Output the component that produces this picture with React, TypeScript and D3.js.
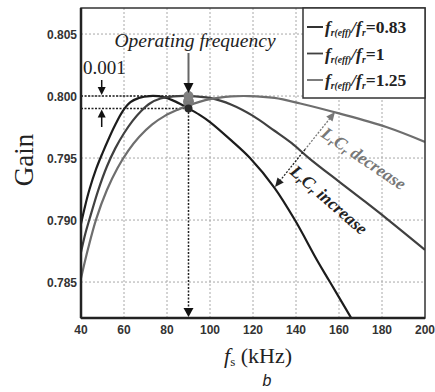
import React from "react";
import * as d3 from "d3";

const xTicks = [40, 60, 80, 100, 120, 140, 160, 180, 200];
const yTicks = [0.785, 0.79, 0.795, 0.8, 0.805];

// fr(eff)/fr = 0.83 (LrCr increase)
const freq1 = [40, 42, 44, 47, 50, 53, 56, 59.5, 63, 67, 72, 78, 84, 90, 95, 100, 110, 118.6, 130, 139.5, 150, 155.8, 166.7, 172];
const gain1 = [0.7897, 0.7912, 0.7925, 0.7941, 0.7954, 0.7966, 0.7977, 0.7988, 0.7995, 0.79985, 0.8, 0.79993, 0.79955, 0.799, 0.7985, 0.7979, 0.7964, 0.795, 0.7926, 0.79, 0.7867, 0.785, 0.7818, 0.7802];
// fr(eff)/fr = 1
const freq2 = [40, 42, 44, 48, 52, 56, 60, 64, 68, 72, 77, 83, 90, 100, 110, 120, 130, 138, 146, 160, 172, 183, 200];
const gain2 = [0.7874, 0.7889, 0.7901, 0.7924, 0.7943, 0.7958, 0.797, 0.798, 0.7988, 0.7994, 0.7998, 0.79997, 0.8, 0.79985, 0.7993, 0.7984, 0.7972, 0.7962, 0.795, 0.7931, 0.7915, 0.79, 0.7876];
// fr(eff)/fr = 1.25 (LrCr decrease)
const freq3 = [40, 43.3, 47.1, 52, 57, 62, 67, 73, 79, 85, 90, 100, 110, 118, 130, 142, 160, 182, 200];
const gain3 = [0.7853, 0.7877, 0.7901, 0.7924, 0.7942, 0.7956, 0.7967, 0.7977, 0.7984, 0.7989, 0.79925, 0.79975, 0.79997, 0.8, 0.79985, 0.7994, 0.7986, 0.7975, 0.7963];

const legendLabels = ["0.83", "1", "1.25"];
const seriesColors = ["#1c1c1c", "#404040", "#6e6e6e"];

const opFreq = 90;
const opGainHigh = 0.8;
const opGainLow = 0.799;

export default function App() {
  const W = 435, H = 392;
  const L = 81, R = 425, T = 8, B = 318;
  const x = d3.scaleLinear().domain([40, 200]).range([L, R]);
  const y = d3.scaleLinear().domain([0.7821, 0.8071]).range([B, T]);
  const line = d3
    .line<[number, number]>()
    .x((d) => x(d[0]))
    .y((d) => y(d[1]))
    .curve(d3.curveCatmullRom.alpha(0.5));
  const series = [
    d3.zip(freq1, gain1) as [number, number][],
    d3.zip(freq2, gain2) as [number, number][],
    d3.zip(freq3, gain3) as [number, number][],
  ];
  const ox = x(opFreq);
  const serif = "'Liberation Serif', 'Times New Roman', serif";
  const sans = "'Liberation Sans', Arial, sans-serif";

  const tri = (tx: number, ty: number, dir: "down" | "up", w = 4.5, h = 9) =>
    dir === "down"
      ? `M${tx - w},${ty - h}L${tx + w},${ty - h}L${tx},${ty}Z`
      : `M${tx - w},${ty + h}L${tx + w},${ty + h}L${tx},${ty}Z`;

  // double arrow between curves
  const a1 = [335, 112];
  const a2 = [275, 187];
  const ang = Math.atan2(a2[1] - a1[1], a2[0] - a1[0]);
  const headAt = (px: number, py: number, dirAng: number, len = 9, w = 4) => {
    const bx = px - Math.cos(dirAng) * len;
    const by = py - Math.sin(dirAng) * len;
    const nx = -Math.sin(dirAng) * w;
    const ny = Math.cos(dirAng) * w;
    return `M${px},${py}L${bx + nx},${by + ny}L${bx - nx},${by - ny}Z`;
  };

  return (
    <svg width={W} height={H} style={{ position: "absolute", left: 0, top: 0, background: "#fff" }}>
      <defs>
        <clipPath id="plot">
          <rect x={L} y={T} width={R - L} height={B - T} />
        </clipPath>
      </defs>
      {/* grid */}
      {xTicks.slice(1, -1).map((t) => (
        <line key={"gx" + t} x1={x(t)} x2={x(t)} y1={T} y2={B} stroke="#a8a8a8" strokeWidth={1} strokeDasharray="2,2" />
      ))}
      {yTicks.map((t) => (
        <line key={"gy" + t} x1={L} x2={R} y1={y(t)} y2={y(t)} stroke="#a8a8a8" strokeWidth={1} strokeDasharray="2,2" />
      ))}
      {/* reference dotted lines */}
      <line x1={L} x2={ox} y1={y(opGainHigh)} y2={y(opGainHigh)} stroke="#222" strokeWidth={1.5} strokeDasharray="2,1.5" />
      <line x1={L} x2={ox} y1={y(opGainLow)} y2={y(opGainLow)} stroke="#222" strokeWidth={1.5} strokeDasharray="2,1.5" />
      <line x1={ox} x2={ox} y1={y(opGainLow)} y2={B - 8} stroke="#222" strokeWidth={1.5} strokeDasharray="2,1.5" />
      <path d={tri(ox, B - 1, "down", 5, 9)} fill="#111" />
      {/* curves */}
      <g clipPath="url(#plot)">
        {series.map((s, i) => (
          <path key={i} d={line(s) || ""} fill="none" stroke={seriesColors[i]} strokeWidth={2.2} />
        ))}
      </g>
      {/* operating points */}
      <circle cx={ox} cy={y(0.79955)} r={5.5} fill="#7a7a7a" />
      <circle cx={ox} cy={y(opGainHigh)} r={5} fill="#808080" />
      <circle cx={ox} cy={y(opGainLow)} r={4} fill="#2a2a2a" />
      {/* operating frequency arrow */}
      <line x1={ox} x2={ox} y1={53} y2={85} stroke="#666" strokeWidth={2} />
      <path d={tri(ox, 93, "down", 5, 10)} fill="#111" />
      <text x={195} y={47} textAnchor="middle" fontFamily={serif} fontStyle="italic" fontSize={19.5} fill="#222">
        Operating frequency
      </text>
      {/* 0.001 annotation */}
      <text x={83} y={74} fontFamily={serif} fontSize={19} fill="#222">0.001</text>
      <line x1={101.7} x2={101.7} y1={80} y2={88} stroke="#111" strokeWidth={1.5} />
      <path d={tri(101.7, 95, "down", 4, 8)} fill="#111" />
      <line x1={101.7} x2={101.7} y1={116} y2={127} stroke="#111" strokeWidth={1.5} />
      <path d={tri(101.7, 109.5, "up", 4, 8)} fill="#111" />
      {/* LrCr double arrow */}
      <line
        x1={a1[0] + Math.cos(ang) * 8}
        y1={a1[1] + Math.sin(ang) * 8}
        x2={(a1[0] + a2[0]) / 2}
        y2={(a1[1] + a2[1]) / 2}
        stroke="#777"
        strokeWidth={1.3}
        strokeDasharray="2,1.5"
      />
      <line
        x1={(a1[0] + a2[0]) / 2}
        y1={(a1[1] + a2[1]) / 2}
        x2={a2[0] - Math.cos(ang) * 8}
        y2={a2[1] - Math.sin(ang) * 8}
        stroke="#222"
        strokeWidth={1.3}
        strokeDasharray="2,1.5"
      />
      <path d={headAt(a1[0], a1[1], ang + Math.PI)} fill="#777" />
      <path d={headAt(a2[0], a2[1], ang)} fill="#222" />
      <text
        transform="translate(320,136) rotate(34)"
        fontFamily={serif}
        fontStyle="italic"
        fontWeight="bold"
        fontSize={17.5}
        fill="#777"
      >
        L<tspan fontSize={11} dy={3}>r</tspan>
        <tspan dy={-3}>C</tspan>
        <tspan fontSize={11} dy={3}>r</tspan>
        <tspan dy={-3}> decrease</tspan>
      </text>
      <text
        transform="translate(289,173) rotate(41)"
        fontFamily={serif}
        fontStyle="italic"
        fontWeight="bold"
        fontSize={17.5}
        fill="#222"
      >
        L<tspan fontSize={11} dy={3}>r</tspan>
        <tspan dy={-3}>C</tspan>
        <tspan fontSize={11} dy={3}>r</tspan>
        <tspan dy={-3}> increase</tspan>
      </text>
      {/* frame & axes */}
      <rect x={L} y={T} width={R - L} height={B - T} fill="none" stroke="#333" strokeWidth={1.5} />
      <line x1={L} x2={L} y1={T} y2={B} stroke="#222" strokeWidth={2.5} />
      <line x1={L} x2={R} y1={B} y2={B} stroke="#222" strokeWidth={2.5} />
      {/* legend */}
      <rect x={303} y={T} width={R - 303} height={90} fill="#fff" stroke="#333" strokeWidth={1.5} />
      {legendLabels.map((lab, i) => {
        const ly = 27 + i * 26.5;
        return (
          <g key={lab}>
            <line x1={307} x2={323} y1={ly} y2={ly} stroke={seriesColors[i]} strokeWidth={1.8} />
            <text x={325} y={ly + 6} fontFamily={serif} fontWeight="bold" fontSize={17.5} fill="#222">
              <tspan fontStyle="italic">f</tspan>
              <tspan fontStyle="italic" fontSize={9.5} dy={3}>r(eff)</tspan>
              <tspan fontStyle="italic" dy={-3}>/f</tspan>
              <tspan fontStyle="italic" fontSize={9.5} dy={3}>r</tspan>
              <tspan dy={-3}>={lab}</tspan>
            </text>
          </g>
        );
      })}
      {/* tick labels */}
      {yTicks.map((t) => (
        <text key={"yl" + t} x={77} y={y(t) + 4.5} textAnchor="end" fontFamily={sans} fontWeight="bold" fontSize={12} fill="#333">
          {d3.format(".3f")(t)}
        </text>
      ))}
      {xTicks.map((t) => (
        <text key={"xl" + t} x={x(t)} y={334} textAnchor="middle" fontFamily={sans} fontWeight="bold" fontSize={12} fill="#333">
          {t}
        </text>
      ))}
      {/* axis titles */}
      <text transform="translate(33,160) rotate(-90)" textAnchor="middle" fontFamily={serif} fontSize={27} fill="#222">
        Gain
      </text>
      <text x={258} y={363} textAnchor="middle" fontFamily={serif} fontSize={22} fill="#222">
        <tspan fontStyle="italic">f</tspan>
        <tspan fontSize={13} dy={3}>s</tspan>
        <tspan dy={-3}> (kHz)</tspan>
      </text>
      <text x={267} y={386} textAnchor="middle" fontFamily={sans} fontStyle="italic" fontSize={16} fill="#222">
        b
      </text>
    </svg>
  );
}
